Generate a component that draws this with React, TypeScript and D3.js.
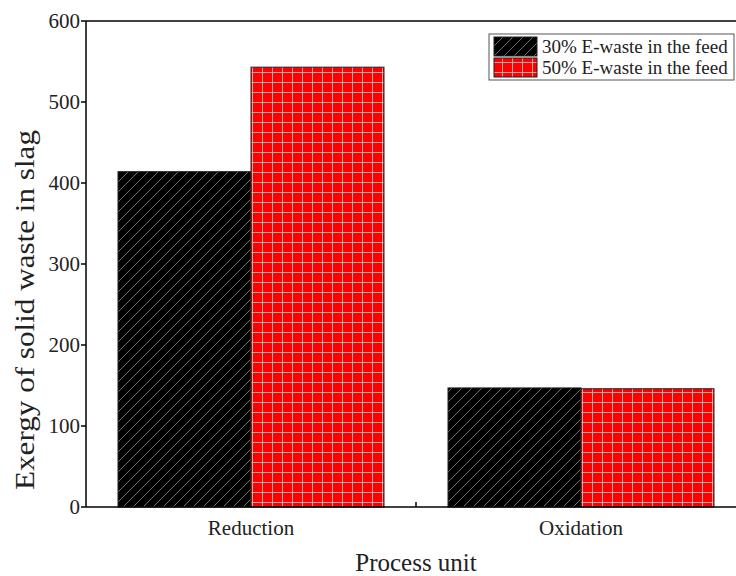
import React from "react";
import * as d3 from "d3";

const categories = ["Reduction", "Oxidation"];
const seriesNames = ["30% E-waste in the feed", "50% E-waste in the feed"];
const series30 = [414, 147];
const series50 = [543, 146];
const yTicks = [0, 100, 200, 300, 400, 500, 600];

const W = 736;
const H = 576;
const FONT = "'Liberation Serif', 'Times New Roman', serif";

export default function App() {
  const left = 86;
  const bottom = 507;
  const top = 21;
  const x = d3.scaleLinear().domain([0.5, 2.5]).range([left, 746]);
  const y = d3.scaleLinear().domain([0, 600]).range([bottom, top]);
  const barW = 133;

  const bars: { v: number; cx: number; s: number }[] = [];
  categories.forEach((c, i) => {
    bars.push({ v: series30[i], cx: i + 1, s: 0 });
    bars.push({ v: series50[i], cx: i + 1, s: 1 });
  });

  const fills = ["url(#hatch)", "url(#grid)"];

  return (
    <svg
      width={W}
      height={H}
      style={{ position: "absolute", left: 0, top: 0, background: "#fff" }}
    >
      <defs>
        <pattern id="hatch" patternUnits="userSpaceOnUse" width="10" height="10">
          <rect width="10" height="10" fill="#000" />
          <path d="M-2,12 L12,-2 M-2,2 L2,-2 M8,12 L12,8" stroke="#7a7a7a" strokeWidth="0.9" />
        </pattern>
        <pattern id="grid" patternUnits="userSpaceOnUse" width="10" height="10" x="2" y="2">
          <rect width="10" height="10" fill="#ff0000" />
          <path d="M0,0.5 H10 M0.5,0 V10" stroke="#ffa0a0" strokeWidth="1" />
        </pattern>
      </defs>

      {bars.map((b, i) => {
        const x0 = b.s === 0 ? x(b.cx) - barW : x(b.cx);
        return (
          <rect
            key={i}
            x={x0}
            y={y(b.v)}
            width={barW}
            height={y(0) - y(b.v)}
            fill={fills[b.s]}
            stroke="#222"
            strokeWidth={1}
          />
        );
      })}

      {/* axes frame */}
      <line x1={left} x2={W} y1={top} y2={top} stroke="#000" strokeWidth={1.5} />
      <line x1={left} x2={left} y1={top} y2={bottom} stroke="#000" strokeWidth={1.5} />
      <line x1={left} x2={W} y1={bottom} y2={bottom} stroke="#000" strokeWidth={1.5} />

      {yTicks.map((t) => (
        <g key={t}>
          <line x1={left - 5} x2={left} y1={y(t)} y2={y(t)} stroke="#000" strokeWidth={1.5} />
          <text
            x={left - 6}
            y={y(t)}
            textAnchor="end"
            dominantBaseline="central"
            fontFamily={FONT}
            fontSize={21}
            fill="#222"
          >
            {t}
          </text>
        </g>
      ))}

      <line x1={x(1.5)} x2={x(1.5)} y1={bottom} y2={bottom - 5} stroke="#000" strokeWidth={1.5} />

      {categories.map((c, i) => (
        <text
          key={c}
          x={x(i + 1)}
          y={528}
          textAnchor="middle"
          dominantBaseline="central"
          fontFamily={FONT}
          fontSize={21}
          fill="#222"
        >
          {c}
        </text>
      ))}

      <text
        x={416}
        y={562}
        textAnchor="middle"
        dominantBaseline="central"
        fontFamily={FONT}
        fontSize={25}
        fill="#222"
      >
        Process unit
      </text>

      <text
        transform={`translate(25,310) rotate(-90)`}
        textAnchor="middle"
        dominantBaseline="central"
        fontFamily={FONT}
        fontSize={27}
        textLength={360}
        lengthAdjust="spacingAndGlyphs"
        fill="#222"
      >
        Exergy of solid waste in slag
      </text>

      {/* legend */}
      <rect x={489} y={34} width={245} height={46} fill="#fff" stroke="#555" strokeWidth={1} />
      {seriesNames.map((n, i) => (
        <g key={n}>
          <rect x={494} y={37 + i * 21} width={43} height={19} fill={fills[i]} stroke="#222" strokeWidth={1} />
          <text
            x={542}
            y={46.5 + i * 21}
            dominantBaseline="central"
            fontFamily={FONT}
            fontSize={19}
            fill="#222"
          >
            {n}
          </text>
        </g>
      ))}
    </svg>
  );
}
